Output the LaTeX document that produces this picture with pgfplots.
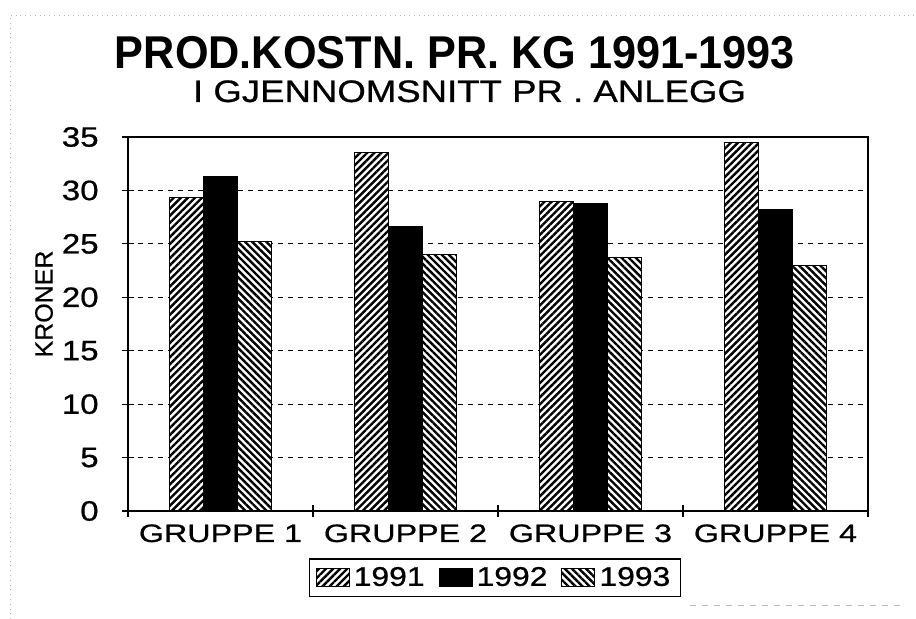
\documentclass[border=0pt]{standalone}
\usepackage{fontspec}
\setmainfont{Liberation Sans}[FakeBold=0.6]
\newfontfamily\wide{Liberation Sans}[FakeStretch=1.28, FakeBold=0.8]
\newfontfamily\midw{Liberation Sans}[FakeStretch=1.18, FakeBold=0.8]
\newfontfamily\titlef{Liberation Sans}[FakeStretch=0.94]
\usepackage{pgfplots}
\usepackage{pgfplotstable}
\pgfplotsset{compat=1.18}
\usetikzlibrary{patterns.meta}

% kroner per kg
\pgfplotstableread{
grp y91 y92 y93
0 29.35 31.3 25.2
1 33.55 26.65 24.0
2 29.0 28.8 23.7
3 34.45 28.2 22.95
}\costs

\pgfplotsset{
  patch/.style={legend image code/.code={\draw[##1] (0pt,-4.5pt) rectangle (16.5pt,4.5pt);}},
}

\begin{document}
\begin{tikzpicture}
\useasboundingbox (0,0) rectangle (458pt,309.5pt);
% faint scan frame
\draw[gray!55, dotted, line width=0.4pt] (5pt,0) -- (5pt,302pt) -- (458pt,302pt);
\draw[gray!55, dashed, line width=0.4pt] (345pt,7pt) -- (450pt,7pt);

\node[anchor=base, font=\titlef\bfseries\fontsize{23}{23}\selectfont] at (227.5pt,275pt) {PROD.KOSTN. PR. KG 1991-1993};
\node[anchor=base, font=\midw\fontsize{15.5}{15.5}\selectfont] at (234.75pt,258.5pt) {I GJENNOMSNITT PR . ANLEGG};
\node[rotate=90, font=\fontsize{12.5}{12.5}\selectfont] at (22pt,157.5pt) {KRONER};

\begin{axis}[
  at={(64pt,54pt)}, anchor=south west,
  scale only axis, width=370pt, height=187pt,
  ybar=0pt, bar width=17pt,
  xmin=-0.5, xmax=3.5, ymin=0, ymax=35,
  ytick={0,5,...,35},
  xtick={-0.5,0.5,1.5,2.5,3.5}, xticklabels={},
  extra x ticks={0,1,2,3},
  extra x tick labels={GRUPPE 1,GRUPPE 2,GRUPPE 3,GRUPPE 4},
  extra x tick style={major tick length=0pt, grid=none,
    tick label style={font=\wide\fontsize{12.6}{12.6}\selectfont, anchor=base, yshift=-15.5pt}},
  tickpos=left, tick align=center, major tick length=6pt,
  tick style={black, line width=0.6pt},
  axis line style={black, line width=0.9pt},
  ymajorgrids,
  major grid style={black, line width=0.45pt, dash pattern=on 2.5pt off 2.5pt},
  /pgf/number format/assume math mode=true,
  yticklabel style={font=\midw\fontsize{14}{14}\selectfont, anchor=east, inner sep=0pt, xshift=-11.5pt},
  legend columns=3,
  legend style={at={(0.496,-0.179)}, anchor=center, draw=black, line width=0.6pt,
    font=\midw\fontsize{13.5}{13.5}\selectfont, inner xsep=3pt, inner ysep=2pt,
    /tikz/every even column/.append style={column sep=5pt}},
]
\addplot[fill=white, draw=black, line width=0.5pt,
  postaction={pattern={Lines[angle=45,distance=2.5pt,line width=1.2pt]}}, patch]
  table[x=grp, y=y91] {\costs};
\addplot[fill=black, draw=black, line width=0.5pt, patch]
  table[x=grp, y=y92] {\costs};
\addplot[fill=white, draw=black, line width=0.5pt,
  postaction={pattern={Lines[angle=-45,distance=2.5pt,line width=1.2pt]}}, patch]
  table[x=grp, y=y93] {\costs};
\legend{1991,1992,1993}
\end{axis}
\end{tikzpicture}
\end{document}
